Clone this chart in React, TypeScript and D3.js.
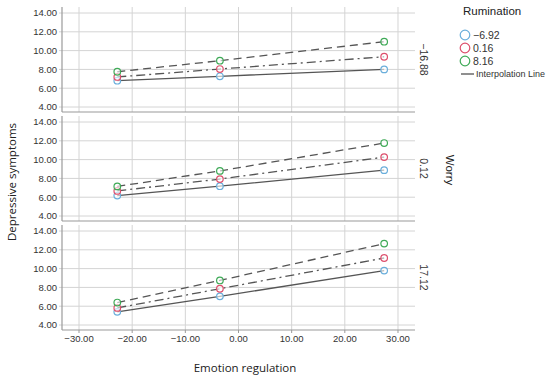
import React from 'react';
import * as d3 from 'd3';

// emotion regulation values where the points sit
const xValues = [-22.8, -3.5, 27.4];
const xTicks = [-30, -20, -10, 0, 10, 20, 30];
const yTicks = [4, 6, 8, 10, 12, 14];

// worry levels (one panel each)
const worryLevels = ['\u221216.88', '0.12', '17.12'];
// rumination levels (one line each)
const ruminationLevels = ['\u22126.92', '0.16', '8.16'];

// depressive symptoms, per worry panel: [low, mid, high] rumination
const panelLow = [
  [6.8, 7.27, 8.0],
  [7.2, 8.04, 9.35],
  [7.75, 8.93, 10.95],
];
const panelMid = [
  [6.18, 7.17, 8.88],
  [6.67, 7.93, 10.27],
  [7.15, 8.8, 11.76],
];
const panelHigh = [
  [5.4, 7.05, 9.79],
  [5.82, 7.86, 11.13],
  [6.39, 8.74, 12.66],
];
const panels = [panelLow, panelMid, panelHigh];

const colors = ['#6aaedb', '#dd4f6c', '#3faa57'];
const dashes = [null, '9,4,2,4', '8,5'];

const App = () => {
  const width = 550;
  const height = 383;
  const left = 62;
  const right = 415;
  const panelTops = [7, 116, 225];
  const panelH = 105;

  const x = d3.scaleLinear().domain([-33.2, 33.2]).range([left, right]);
  const tickFont = 'Liberation Sans, Arial, sans-serif';
  const fmt = (v: number) => (v < 0 ? '\u2212' : '') + Math.abs(v).toFixed(2);

  return (
    <svg width={width} height={height} style={{ position: 'absolute', left: 0, top: 0, background: '#fff' }}>
      {panels.map((series, pi) => {
        const top = panelTops[pi];
        const bottom = top + panelH;
        const y = d3.scaleLinear().domain([3.47, 14.64]).range([bottom, top]);
        const line = d3.line<number>()
          .x((d, i) => x(xValues[i]))
          .y((d) => y(d));
        return (
          <g key={pi}>
            {/* grid */}
            {xTicks.map((t) => (
              <line key={'vx' + t} x1={x(t)} x2={x(t)} y1={top} y2={bottom} stroke="#d4d4d4" strokeWidth={1} />
            ))}
            {yTicks.map((t) => (
              <line key={'hy' + t} x1={left - 3} x2={right} y1={y(t)} y2={y(t)} stroke="#d4d4d4" strokeWidth={1} />
            ))}
            {yTicks.map((t) => (
              <text key={'ty' + t} x={57} y={y(t)} dy="0.35em" textAnchor="end"
                fontFamily={tickFont} fontSize={9.5} fill="#333">{fmt(t)}</text>
            ))}
            <line x1={left} x2={left} y1={top} y2={bottom} stroke="#9a9a9a" strokeWidth={1.2} />
            <line x1={left} x2={right} y1={bottom} y2={bottom} stroke="#9a9a9a" strokeWidth={1.2} />
            {/* facet label */}
            <text transform={`translate(420, ${top + panelH / 2}) rotate(90)`} textAnchor="middle"
              fontFamily={tickFont} fontSize={10.5} fill="#333">{worryLevels[pi]}</text>
            {/* lines */}
            {series.map((vals, si) => (
              <path key={'l' + si} d={line(vals) || ''} fill="none" stroke="#555"
                strokeWidth={1.3} strokeDasharray={dashes[si] || undefined} />
            ))}
            {series.map((vals, si) =>
              vals.map((v, i) => (
                <circle key={'c' + si + i} cx={x(xValues[i])} cy={y(v)} r={3.3}
                  fill="#fff" fillOpacity={0.6} stroke={colors[si]} strokeWidth={1.2} />
              ))
            )}
          </g>
        );
      })}
      {/* x axis ticks */}
      {xTicks.map((t) => (
        <g key={'xt' + t}>
          <line x1={x(t)} x2={x(t)} y1={330} y2={333} stroke="#9a9a9a" />
          <text x={x(t)} y={342} textAnchor="middle" fontFamily={tickFont} fontSize={9.5} fill="#333">{fmt(t)}</text>
        </g>
      ))}
      <text x={245} y={372} textAnchor="middle" fontFamily="Open Sans, sans-serif" fontSize={11.5} fill="#222">Emotion regulation</text>
      <text transform="translate(16, 182) rotate(-90)" textAnchor="middle" fontFamily="Open Sans, sans-serif"
        fontSize={11.5} fill="#222">Depressive symptoms</text>
      <text transform="translate(446, 170) rotate(90)" textAnchor="middle" fontFamily={tickFont}
        fontSize={11.5} fill="#222">Worry</text>
      {/* legend */}
      <text x={463} y={15} fontFamily={tickFont} fontSize={11.5} fill="#222">Rumination</text>
      {ruminationLevels.map((lab, i) => (
        <g key={'lg' + i} transform={`translate(465, ${35 + i * 13})`}>
          <circle r={4.8} fill="none" stroke={colors[i]} strokeWidth={1.2} />
          <text x={8} dy="0.35em" fontFamily={tickFont} fontSize={10.5} fill="#333">{lab}</text>
        </g>
      ))}
      <line x1={461} x2={474} y1={74} y2={74} stroke="#444" strokeWidth={1.2} />
      <text x={476} y={74} dy="0.35em" fontFamily={tickFont} fontSize={9.5} fill="#333"
        textLength={69} lengthAdjust="spacingAndGlyphs">Interpolation Line</text>
    </svg>
  );
};

export default App;
